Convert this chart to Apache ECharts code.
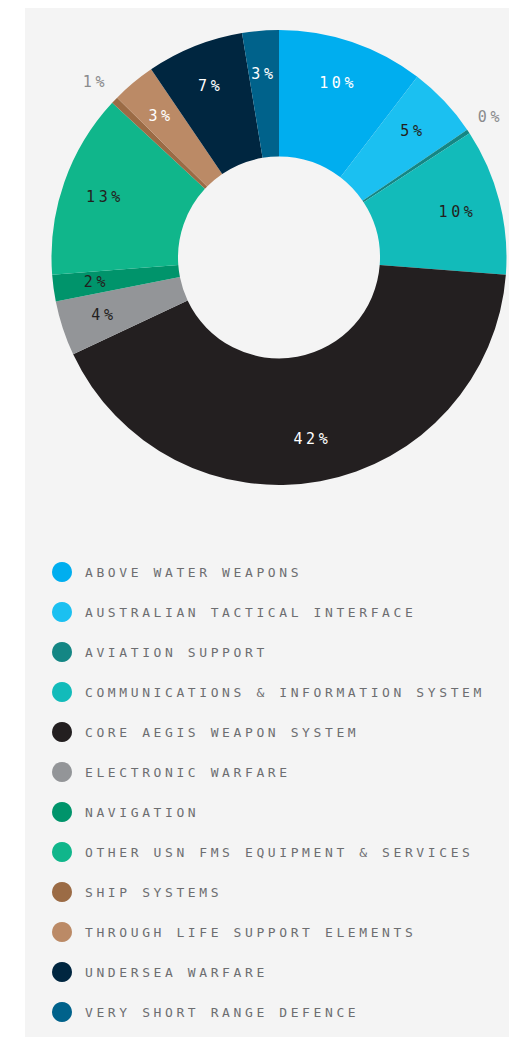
<!DOCTYPE html>
<html>
<head>
<meta charset="utf-8">
<script src="https://cdn.jsdelivr.net/npm/echarts@6/dist/echarts.min.js"></script>
<style>
  html, body { margin: 0; padding: 0; background: #ffffff; }
  #chart { position: absolute; left: 25px; top: 8px; width: 484px; height: 1029px; background: #f4f4f4; }
  #chart svg text { letter-spacing: 3.6px; }
</style>
</head>
<body>
<div id="chart"></div>
<script>
// Programme categories and their share of spend (%)
const categories = [
  'ABOVE WATER WEAPONS',
  'AUSTRALIAN TACTICAL INTERFACE',
  'AVIATION SUPPORT',
  'COMMUNICATIONS & INFORMATION SYSTEM',
  'CORE AEGIS WEAPON SYSTEM',
  'ELECTRONIC WARFARE',
  'NAVIGATION',
  'OTHER USN FMS EQUIPMENT & SERVICES',
  'SHIP SYSTEMS',
  'THROUGH LIFE SUPPORT ELEMENTS',
  'UNDERSEA WARFARE',
  'VERY SHORT RANGE DEFENCE'
];
const shares = [10.4, 5.1, 0.3, 10.4, 41.8, 3.9, 1.9, 13.1, 0.5, 3.1, 6.9, 2.6];

// Styling
const sliceColors = ['#00aeef', '#1bc0f1', '#148684', '#12bbba', '#231f20', '#939598',
                     '#00946b', '#10b68b', '#9b6b45', '#bb8a66', '#002640', '#00628b'];
const labelInk = ['#ffffff', '#231f20', '#231f20', '#231f20', '#ffffff', '#231f20',
                  '#231f20', '#231f20', '#231f20', '#ffffff', '#ffffff', '#ffffff'];
const SMALL = 1; // slices below this share get their label outside the ring
const FONT = '"DejaVu Sans Mono", monospace';
const CENTER = [254, 249.5];

const pct = v => Math.round(v) + '%';

const ringData = categories.map((name, i) => ({
  name, value: shares[i], itemStyle: { color: sliceColors[i] }
}));
const innerLabelData = categories.map((name, i) => ({
  name, value: shares[i],
  label: { show: shares[i] >= SMALL, color: labelInk[i] }
}));
const outerLabelData = categories.map((name, i) => ({
  name, value: shares[i],
  label: { show: shares[i] < SMALL }
}));

// transparent rings that only carry the percentage labels
const ghost = {
  type: 'pie', center: CENTER, startAngle: 90, silent: true,
  itemStyle: { color: 'rgba(0,0,0,0)', borderWidth: 0 },
  emphasis: { disabled: true }, labelLine: { show: false },
  animation: false
};

const chart = echarts.init(document.getElementById('chart'), null, { renderer: 'svg' });
chart.setOption({
  backgroundColor: '#f4f4f4',
  animation: false,
  legend: {
    orient: 'vertical', left: 27, top: 554, padding: 0,
    itemWidth: 20, itemHeight: 20, itemGap: 20,
    icon: 'circle',
    data: categories,
    selectedMode: false,
    textStyle: { fontFamily: FONT, fontSize: 13, color: '#6d6e71', padding: [0, 0, 0, 8] }
  },
  series: [
    {
      type: 'pie', name: 'ring', center: CENTER, radius: [101, 227.5], startAngle: 90,
      data: ringData, label: { show: false }, labelLine: { show: false },
      emphasis: { disabled: true }, itemStyle: { borderWidth: 0 }
    },
    Object.assign({}, ghost, {
      radius: [135, 227.5], data: innerLabelData,
      label: { position: 'inside', formatter: p => pct(p.value),
               fontFamily: FONT, fontSize: 15 }
    }),
    Object.assign({}, ghost, {
      radius: [238, 264], data: outerLabelData,
      label: { position: 'inside', formatter: p => pct(p.value),
               fontFamily: FONT, fontSize: 15, color: '#8a8b8d' }
    })
  ]
});
</script>
</body>
</html>
